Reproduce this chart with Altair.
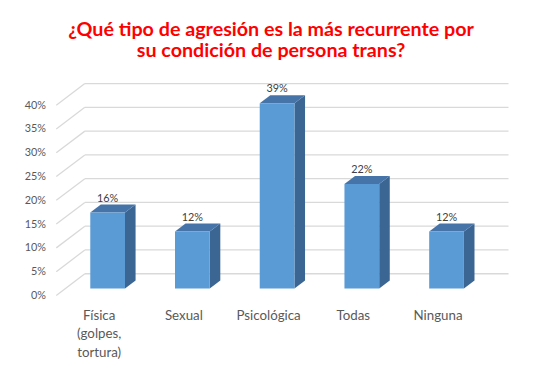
import altair as alt
import pandas as pd

# ---- data ----
categories = ["Física (golpes, tortura)", "Sexual", "Psicológica", "Todas", "Ninguna"]
label_lines = [["Física", "(golpes,", "tortura)"], ["Sexual"], ["Psicológica"], ["Todas"], ["Ninguna"]]
values = [16, 12, 39, 22, 12]          # percent
value_labels = ["16%", "12%", "39%", "22%", "12%"]
y_ticks = [0, 5, 10, 15, 20, 25, 30, 35, 40]

# ---- 3D oblique projection parameters (style) ----
DX = 29 / 86        # wall depth in x-units (one category = 1 unit)
DY = 22 / 4.825     # wall depth in y-units (percent)
BAR_W = 0.41        # bar width as fraction of category
D0, D1 = 0.315, 0.685  # bar depth span (fraction of wall depth)

FRONT = "#5B9BD5"
TOP = "#4674A8"
SIDE = "#3B6592"
GRID = "#D9D9D9"
TXT = "#595959"
FONT = "Lato"

n = len(categories)

grid_back = pd.DataFrame({"x": [DX] * len(y_ticks), "x2": [n + DX] * len(y_ticks),
                          "y": [t + DY for t in y_ticks]})
grid_left = pd.DataFrame({"x": [0.0] * len(y_ticks), "x2": [DX] * len(y_ticks),
                          "y": y_ticks, "y2": [t + DY for t in y_ticks]})

front_rows, side_rows, top_rows, lab_rows = [], [], [], []
for i, (c, v, lab) in enumerate(zip(categories, values, value_labels)):
    xl = i + 0.5 - BAR_W / 2
    xr = i + 0.5 + BAR_W / 2
    front_rows.append({"cat": c, "x": xl + D0 * DX, "x2": xr + D0 * DX,
                       "y": D0 * DY, "y2": v + D0 * DY})
    for d in (D0, D1):
        side_rows.append({"cat": c, "x": xr + d * DX, "y": d * DY, "y2": v + d * DY})
        top_rows.append({"cat": c, "y": v + d * DY, "x": xl + d * DX, "x2": xr + d * DX})
    lab_rows.append({"cat": c, "x": i + 0.5 + D0 * DX, "y": v + D1 * DY, "t": lab})

front_df = pd.DataFrame(front_rows)
side_df = pd.DataFrame(side_rows)
top_df = pd.DataFrame(top_rows)
lab_df = pd.DataFrame(lab_rows)

xscale = alt.Scale(domain=[0, n], nice=False, zero=False)
yscale = alt.Scale(domain=[0, 40], nice=False, zero=True)

label_expr = "[" + ",".join(
    "[" + ",".join("'" + s + "'" for s in lines) + "]" for lines in label_lines
) + "][floor(datum.value)]"

x_axis = alt.Axis(values=[i + 0.5 for i in range(n)], labelExpr=label_expr, title=None,
                  domain=False, ticks=False, grid=False, labelFont=FONT, labelFontSize=13.5,
                  labelColor=TXT, labelPadding=13, labelLineHeight=19, labelBaseline="top",
                  labelOverlap=False)
y_axis = alt.Axis(values=y_ticks, tickCount=9, labelExpr="datum.value + '%'", title=None,
                  domain=False, ticks=False, grid=False, labelFont=FONT, labelFontSize=11,
                  labelColor=TXT, labelPadding=11, labelOverlap=False)


def X(f):
    return alt.X(f, scale=xscale, axis=x_axis)


def Y(f):
    return alt.Y(f, scale=yscale, axis=y_axis)


base_back = alt.Chart(grid_back).mark_rule(color=GRID, strokeWidth=1.3).encode(
    x=X("x:Q"), x2="x2:Q", y=Y("y:Q"))
left = alt.Chart(grid_left).mark_rule(color=GRID, strokeWidth=1.3).encode(
    x=X("x:Q"), x2="x2:Q", y=Y("y:Q"), y2="y2:Q")
side = alt.Chart(side_df).mark_area(color=SIDE, orient="vertical").encode(
    x=X("x:Q"), y=Y("y:Q"), y2="y2:Q", detail="cat:N")
top = alt.Chart(top_df).mark_area(color=TOP, orient="horizontal").encode(
    y=Y("y:Q"), x=X("x:Q"), x2="x2:Q", detail="cat:N")
front = alt.Chart(front_df).mark_rect(color=FRONT).encode(
    x=X("x:Q"), x2="x2:Q", y=Y("y:Q"), y2="y2:Q")
labels = alt.Chart(lab_df).mark_text(font=FONT, fontSize=11, color="#404040",
                                     baseline="bottom", dy=-1).encode(
    x=X("x:Q"), y=Y("y:Q"), text="t:N")

chart = alt.layer(base_back, left, side, top, front, labels).properties(
    width=430, height=193,
    autosize=alt.AutoSizeParams(type="none"),
    padding={"left": 49, "top": 96, "right": 62, "bottom": 74},
    title=alt.TitleParams(
        text=["¿Qué tipo de agresión es la más recurrente por", "su condición de persona trans?"],
        font=FONT, fontSize=20, fontWeight="bold", color="#FF0000",
        anchor="middle", frame="group", lineHeight=22, offset=22, dx=3),
).configure(background="white", view=alt.ViewConfig(stroke=None))

chart.save("out.html", embed_options={"renderer": "svg", "actions": False})
